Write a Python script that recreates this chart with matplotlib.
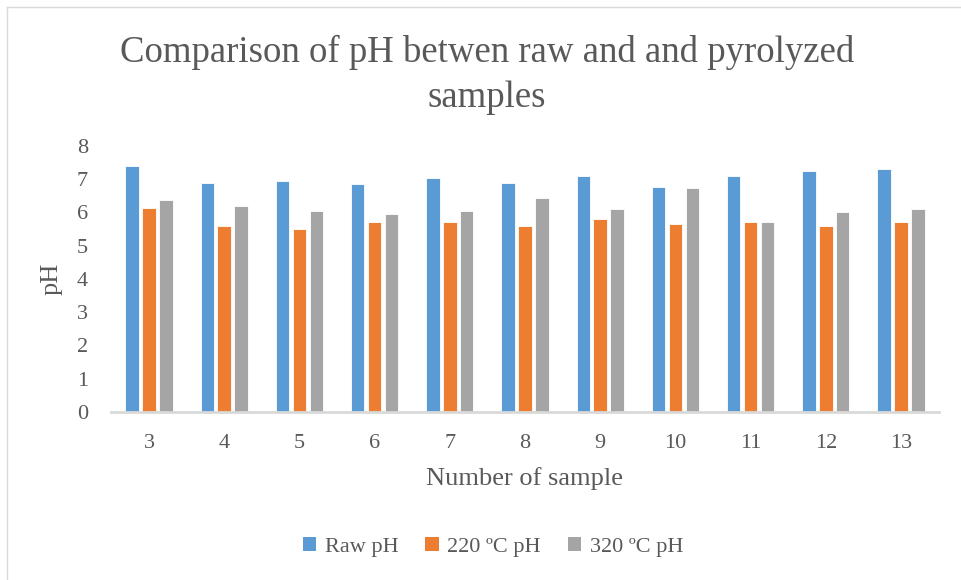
import matplotlib
matplotlib.use("Agg")
import matplotlib.pyplot as plt
import numpy as np
from matplotlib.patches import Patch
from matplotlib.lines import Line2D

samples = ["3", "4", "5", "6", "7", "8", "9", "10", "11", "12", "13"]
raw_ph = [7.41, 6.89, 6.95, 6.86, 7.05, 6.88, 7.09, 6.77, 7.10, 7.24, 7.31]
ph_220 = [6.14, 5.58, 5.50, 5.71, 5.71, 5.58, 5.80, 5.64, 5.71, 5.58, 5.71]
ph_320 = [6.39, 6.20, 6.05, 5.95, 6.05, 6.45, 6.10, 6.75, 5.71, 6.00, 6.10]
series_names = ["Raw pH", "220 ºC pH", "320 ºC pH"]
colors = ["#5B9BD5", "#ED7D31", "#A5A5A5"]
yticks = [0, 1, 2, 3, 4, 5, 6, 7, 8]

plt.rcParams['font.family'] = ['Liberation Serif', 'DejaVu Serif']
txt = "#595959"

W, H = 961, 580
fig = plt.figure(figsize=(W / 100, H / 100), dpi=100)

# chart border (left & top)
fig.add_artist(Line2D([7 / W, 7 / W], [0, 1 - 7 / H], transform=fig.transFigure, color="#d9d9d9", lw=1))
fig.add_artist(Line2D([7 / W, 1], [1 - 7 / H, 1 - 7 / H], transform=fig.transFigure, color="#d9d9d9", lw=1))

left, right, top, bottom = 111.4, 938.6, 146, 412
ax = fig.add_axes([left / W, 1 - bottom / H, (right - left) / W, (bottom - top) / H])

x = np.arange(len(samples))
bw = 0.18
step = 0.225
for i, (vals, c, name) in enumerate(zip([raw_ph, ph_220, ph_320], colors, series_names)):
    ax.bar(x + (i - 1) * step, vals, width=bw, color=c, edgecolor="white", linewidth=0.6, label=name, zorder=2)

ax.set_xlim(-0.5, len(samples) - 0.5)
ax.set_ylim(0, 8)
ax.set_xticks(x)
ax.set_xticklabels(samples)
ax.set_yticks(yticks)
ax.set_yticklabels([str(t) for t in yticks])
for s in ["top", "right", "left"]:
    ax.spines[s].set_visible(False)
ax.spines["bottom"].set_color("#d9d9d9")
ax.spines["bottom"].set_linewidth(2)
ax.tick_params(axis="both", length=0, labelsize=16, colors=txt)
ax.tick_params(axis="x", pad=16)
ax.tick_params(axis="y", pad=17)

ax.set_xlabel("Number of sample", fontsize=19, color=txt, labelpad=10)
ax.set_ylabel("pH", fontsize=19, color=txt, labelpad=10)

fig.text(487 / W, 1 - 75 / H, "Comparison of pH betwen raw and and pyrolyzed\nsamples",
         ha="center", va="center", fontsize=26.5, color=txt, linespacing=1.4)

handles = [Patch(facecolor=c, edgecolor="none") for c in colors]
fig.legend(handles, series_names, loc="center", bbox_to_anchor=(493 / W, 1 - 547 / H),
           ncol=3, frameon=False, fontsize=16, labelcolor=txt, handlelength=0.6,
           handleheight=0.6, handletextpad=0.4, columnspacing=1.2)

fig.savefig("out.png", dpi=100)
